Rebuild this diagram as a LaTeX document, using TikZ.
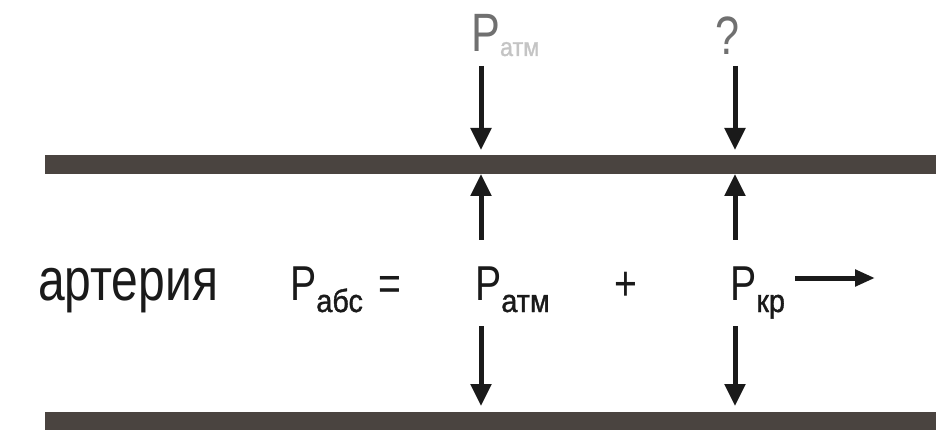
\documentclass[tikz,border=0pt]{standalone}
\usepackage{fontspec}
\setmainfont{Liberation Sans}
\newfontfamily\nf[FakeStretch=0.8]{Liberation Sans}
\newfontfamily\subfnt[FakeBold=1.2,FakeStretch=0.9]{Liberation Sans}
\usetikzlibrary{arrows.meta}
\definecolor{wallc}{HTML}{4A4440}
\definecolor{ink}{HTML}{1A1A1A}
\definecolor{faint}{HTML}{707070}
\definecolor{faded}{HTML}{C4C4C4}
\begin{document}
\begin{tikzpicture}[x=1pt,y=-1pt,
  arr/.style={line width=5pt, draw=ink, -{Triangle[width=20pt,length=22pt]}},
  harr/.style={line width=5pt, draw=ink, -{Triangle[width=16pt,length=20pt]}},
  txt/.style={inner sep=0pt, anchor=base west, text=ink, font=\nf\fontsize{49}{49}\selectfont},
  big/.style={inner sep=0pt, anchor=base west, text=ink, font=\nf\fontsize{60}{60}\selectfont},
  toplbl/.style={inner sep=0pt, anchor=base west, text=faint, font=\nf\fontsize{54}{54}\selectfont}]
\newcommand{\subtxt}[1]{\raisebox{-12pt}{\subfnt\fontsize{32}{32}\selectfont #1}}
\useasboundingbox (0,0) rectangle (936,430);
% walls
\fill[wallc] (45,155) rectangle (936,174);
\fill[wallc] (45,412) rectangle (936,431);
% top labels
\node[toplbl] (ptop) at (471,52) {P\raisebox{-4pt}{\textcolor{faded}{\subfnt\fontsize{26}{26}\selectfont атм}}};
\node[toplbl] (qtop) at (715,55) {?};
% middle row
\node[big] (art) at (38,300) {артерия};
\node[txt] (pabs) at (290,300) {P\subtxt{абс}};
\node[txt] (eq) at (378,300) {=};
\node[txt] (patm) at (475,300) {P\subtxt{атм}};
\node[txt] (plus) at (614,300) {+};
\node[txt] (pkr) at (730,300) {P\subtxt{кр}};
% arrow end points
\coordinate (t1s) at (481,66);  \coordinate (t1e) at (481,150);
\coordinate (t2s) at (735,66);  \coordinate (t2e) at (735,150);
\coordinate (u1s) at (481,240); \coordinate (u1e) at (481,174);
\coordinate (u2s) at (735,240); \coordinate (u2e) at (735,174);
\coordinate (d1s) at (481,326); \coordinate (d1e) at (481,406);
\coordinate (d2s) at (735,326); \coordinate (d2e) at (735,406);
\coordinate (rs) at (795,278);  \coordinate (re) at (875,278);
\draw[arr] (t1s) -- (t1e);
\draw[arr] (t2s) -- (t2e);
\draw[arr] (u1s) -- (u1e);
\draw[arr] (u2s) -- (u2e);
\draw[arr] (d1s) -- (d1e);
\draw[arr] (d2s) -- (d2e);
\draw[harr] (rs) -- (re);
\end{tikzpicture}
\end{document}
